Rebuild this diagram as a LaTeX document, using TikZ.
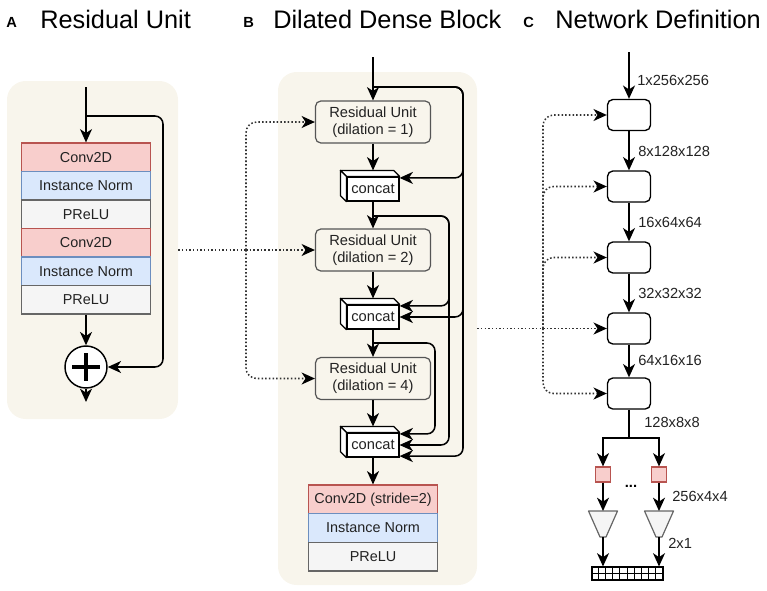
\documentclass[tikz,border=0pt]{standalone}
\usepackage{fontspec}
\setmainfont{Liberation Sans}
\usetikzlibrary{arrows.meta,calc}
\definecolor{bgbeige}{RGB}{248,245,236}
\definecolor{redfill}{HTML}{F8CECC}
\definecolor{redline}{HTML}{B85450}
\definecolor{bluefill}{HTML}{DAE8FC}
\definecolor{blueline}{HTML}{6C8EBF}
\definecolor{greyfill}{HTML}{F5F5F5}
\definecolor{greyline}{HTML}{666666}
\definecolor{txt}{HTML}{222222}
\definecolor{rugrey}{HTML}{555555}
\newcommand\mkconcat[3]{%
  \node[concatst] (#1) at (#2,#3) {concat};
  \draw[line width=0.9pt, fill=white, line join=round] (#1.north west) -- ++(-6,-6) -- ($(#1.north east)+(-6,-6)$) -- (#1.north east) -- cycle;
  \draw[line width=0.9pt, fill=white, line join=round] (#1.north west) -- ++(-6,-6) -- ($(#1.south west)+(-6,-6)$) -- (#1.south west) -- cycle;
  \coordinate (#1top) at ($(#1.north)+(0,-6)$);
  \coordinate (#1p1) at ($(#1.north east)+(0,1.5)$);
  \coordinate (#1p2) at (#1.east);
  \coordinate (#1p3) at ($(#1.south east)+(0,-1.5)$);
}
\begin{document}
\begin{tikzpicture}[x=0.75pt,y=-0.75pt,
  panel/.style={draw=none, fill=bgbeige, rounded corners=14pt, inner sep=0},
  layer/.style={minimum width=96.75pt, minimum height=21.4pt, inner sep=0, font=\fontsize{10.8}{12}\selectfont, text=txt, line width=0.9pt},
  conv/.style={layer, fill=redfill, draw=redline},
  norm/.style={layer, fill=bluefill, draw=blueline},
  act/.style={layer, fill=greyfill, draw=greyline},
  rubox/.style={draw=rugrey, rounded corners=4pt, line width=0.9pt, minimum width=86.25pt, minimum height=31.5pt, align=center, inner sep=0, font=\fontsize{11}{13}\selectfont, text=txt},
  concatst/.style={draw, fill=white, line width=0.9pt, minimum width=39pt, minimum height=18pt, inner sep=0, font=\fontsize{11}{12}\selectfont, text=txt},
  netbox/.style={draw, fill=white, rounded corners=4pt, line width=1pt, minimum width=32.25pt, minimum height=23.25pt, inner sep=0},
  arr/.style={-{Stealth[length=10pt,width=9pt,inset=3pt]}, line width=1.15pt},
  dotline/.style={line width=1.15pt, dash pattern=on 1.15pt off 1.6pt, draw=black!80},
  dotarr/.style={dotline, -{Stealth[length=10pt,width=9pt,inset=3pt,black]}},
  dimlbl/.style={anchor=west, inner sep=0, font=\fontsize{11}{12}\selectfont, text=txt},
  title/.style={anchor=base west, inner sep=0, font=\fontsize{19}{22}\selectfont},
  letter/.style={anchor=base west, inner sep=0, font=\bfseries\fontsize{11}{12}\selectfont}
]
\useasboundingbox (0,0) rectangle (767,590);

% ---------- titles
\node[letter] (tA) at (6,27) {A};
\node[title] (tAt) at (40,28) {Residual Unit};
\node[letter] (tB) at (243,27) {B};
\node[title] (tBt) at (273,28) {Dilated Dense Block};
\node[letter] (tC) at (523,27) {C};
\node[title] (tCt) at (555,28) {Network Definition};

% ---------- panel A
\node[panel, minimum width=128.25pt, minimum height=253.5pt] (pA) at (92.5,250) {};
\node[conv] (a1) at (86,157.25) {Conv2D};
\node[norm] (a2) at (86,185.75) {Instance Norm};
\node[act]  (a3) at (86,214.25) {PReLU};
\node[conv] (a4) at (86,242.75) {Conv2D};
\node[norm] (a5) at (86,271.25) {Instance Norm};
\node[act]  (a6) at (86,299.75) {PReLU};
\node[circle, draw, fill=white, line width=1.1pt, minimum size=31.5pt, inner sep=0] (plus) at (86,367) {};
\draw[line width=3.6pt] ($(plus.center)+(-14,0)$) -- ($(plus.center)+(14,0)$);
\draw[line width=3.6pt] ($(plus.center)+(0,-14)$) -- ($(plus.center)+(0,14)$);
\coordinate (ain) at (86,87);
\coordinate (askip) at (86,116);
\coordinate (aout) at (86,402);
\draw[arr] (ain) -- (a1.north);
\draw[arr, rounded corners=6pt] (askip) -- (163,116) |- (plus.east);
\draw[arr] (a6.south) -- (plus.north);
\draw[arr] (plus.south) -- (aout);

% ---------- panel B
\node[panel, minimum width=149.25pt, minimum height=384.75pt] (pB) at (377.5,328.5) {};
\node[rubox] (ru1) at (373,122) {Residual Unit\\(dilation = 1)};
\node[rubox] (ru2) at (373,250) {Residual Unit\\(dilation = 2)};
\node[rubox] (ru3) at (373,378.5) {Residual Unit\\(dilation = 4)};
\mkconcat{c1}{373}{189}
\mkconcat{c2}{373}{317}
\mkconcat{c3}{373}{445}
\node[conv] (b1) at (373,499.3) {Conv2D (stride=2)};
\node[norm] (b2) at (373,528) {Instance Norm};
\node[act]  (b3) at (373,556.7) {PReLU};
\coordinate (bin) at (373,57);
\coordinate (bs1) at (373,87);
\coordinate (bs2) at (373,216);
\coordinate (bs3) at (373,343);
\draw[arr] (bin) -- (ru1.north);
\draw[arr] (ru1.south) -- (c1top);
\draw[arr] (c1.south) -- (ru2.north);
\draw[arr] (ru2.south) -- (c2top);
\draw[arr] (c2.south) -- (ru3.north);
\draw[arr] (ru3.south) -- (c3top);
\draw[arr] (c3.south) -- (b1.north);
% dense skips
\draw[arr, rounded corners=6pt] (bs1) -- (463,87) |- (c1p1);
\draw[arr, rounded corners=6pt] (bs1) -- (463,87) |- (c2p2);
\draw[arr, rounded corners=6pt] (bs1) -- (463,87) |- (c3p3);
\draw[arr, rounded corners=6pt] (bs2) -- (449,216) |- (c2p1);
\draw[arr, rounded corners=6pt] (bs2) -- (449,216) |- (c3p2);
\draw[arr, rounded corners=6pt] (bs3) -- (435,343) |- (c3p1);

% ---------- dotted A -> B
\coordinate (jA) at (246,250);
\draw[dotline] (pA.east) -- (jA);
\draw[dotarr, rounded corners=8pt] (jA) |- (ru1.west);
\draw[dotarr] (jA) -- (ru2.west);
\draw[dotarr, rounded corners=8pt] (jA) |- (ru3.west);

% ---------- panel C
\node[netbox] (n1) at (629,115) {};
\node[netbox] (n2) at (629,186.5) {};
\node[netbox] (n3) at (629,257.5) {};
\node[netbox] (n4) at (629,328.5) {};
\node[netbox] (n5) at (629,393.5) {};
\coordinate (cin) at (629,52);
\draw[arr] (cin) -- (n1.north);
\draw[arr] (n1.south) -- (n2.north);
\draw[arr] (n2.south) -- (n3.north);
\draw[arr] (n3.south) -- (n4.north);
\draw[arr] (n4.south) -- (n5.north);
\node[dimlbl] (l1) at (637,80) {1x256x256};
\node[dimlbl] (l2) at (638,151) {8x128x128};
\node[dimlbl] (l3) at (638,222) {16x64x64};
\node[dimlbl] (l4) at (638,293) {32x32x32};
\node[dimlbl] (l5) at (638,360) {64x16x16};
\node[dimlbl] (l6) at (644,422) {128x8x8};
\node[dimlbl] (l7) at (672,496) {256x4x4};
\node[dimlbl] (l8) at (668,543) {2x1};

% dotted B -> C
\coordinate (jC) at (543,328.5);
\draw[dotline] (pB.east) -- (jC);
\draw[dotarr, rounded corners=8pt] (jC) |- (n1.west);
\draw[dotarr, rounded corners=8pt] (jC) |- (n2.west);
\draw[dotarr, rounded corners=8pt] (jC) |- (n3.west);
\draw[dotarr] (jC) -- (n4.west);
\draw[dotarr, rounded corners=8pt] (jC) |- (n5.west);

% heads
\coordinate (sp) at (629,438);
\node[draw=redline, fill=redfill, line width=0.9pt, minimum size=11.25pt, inner sep=0] (r1) at (603,474.5) {};
\node[draw=redline, fill=redfill, line width=0.9pt, minimum size=11.25pt, inner sep=0] (r2) at (659,474.5) {};
\draw[line width=1.15pt] (n5.south) -- (sp);
\draw[arr] (sp) -| (r1.north);
\draw[arr] (sp) -| (r2.north);
\coordinate (t1top) at (603,511);
\coordinate (t1bot) at (603,537);
\coordinate (t2top) at (659,511);
\coordinate (t2bot) at (659,537);
\draw[fill=greyfill, draw=greyline, line width=0.9pt, line join=round] ($(t1top)+(-14.5,0)$) -- ($(t1top)+(14.5,0)$) -- ($(t1bot)+(3,0)$) -- ($(t1bot)+(-3,0)$) -- cycle;
\draw[fill=greyfill, draw=greyline, line width=0.9pt, line join=round] ($(t2top)+(-14.5,0)$) -- ($(t2top)+(14.5,0)$) -- ($(t2bot)+(3,0)$) -- ($(t2bot)+(-3,0)$) -- cycle;
\draw[arr] (r1.south) -- (t1top);
\draw[arr] (r2.south) -- (t2top);
\node[draw, fill=white, line width=0.8pt, minimum width=53.25pt, minimum height=9.75pt, inner sep=0] (grid) at (627.5,573.5) {};
\foreach \i in {1,...,9} {\draw[line width=0.7pt] ($(grid.north west)+(7.1*\i,0)$) -- ($(grid.south west)+(7.1*\i,0)$);}
\draw[line width=0.7pt] (grid.west) -- (grid.east);
\draw[arr] (t1bot) -- (t1bot |- grid.north);
\draw[arr] (t2bot) -- (t2bot |- grid.north);
\node[inner sep=0, font=\bfseries\fontsize{11}{12}\selectfont] (dots) at (631,486) {...};
\end{tikzpicture}
\end{document}
